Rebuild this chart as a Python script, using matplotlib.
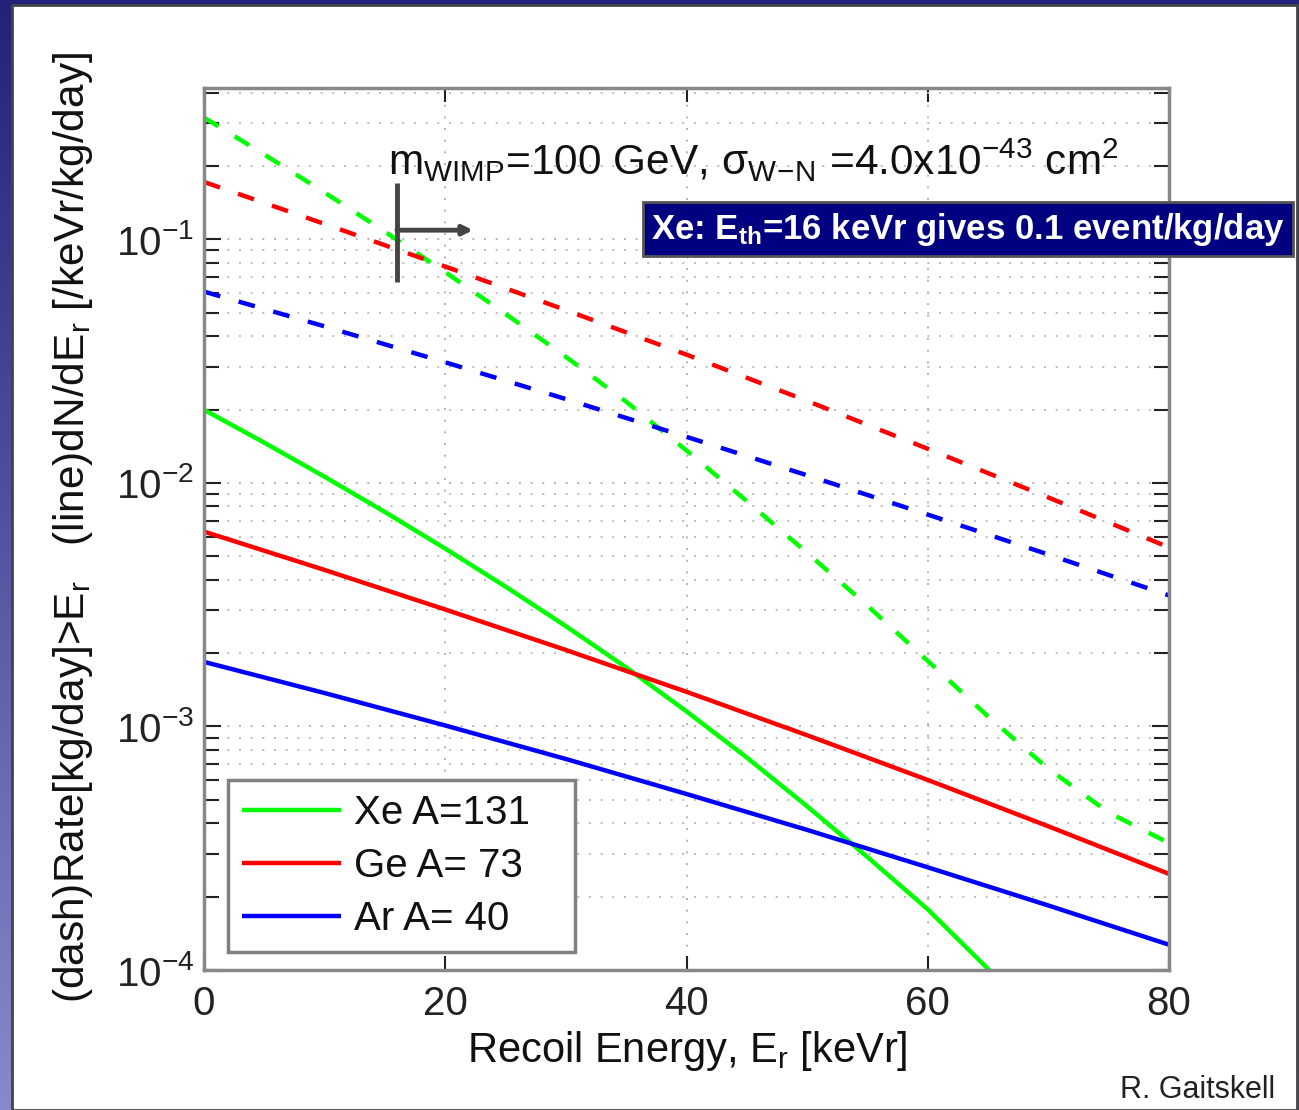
import numpy as np
import matplotlib
matplotlib.use('Agg')
import matplotlib.pyplot as plt
from matplotlib import font_manager
from matplotlib.colors import LinearSegmentedColormap
from matplotlib.patches import Rectangle
from matplotlib.ticker import LogLocator, NullFormatter

# recoil energies [keVr]
energy_fine = [0, 5, 10, 15, 20, 25, 30, 35, 40, 45, 50, 55, 60, 65, 70, 75, 80]
energy_coarse = [0, 10, 20, 30, 40, 50, 60, 70, 80]

# differential rate dN/dEr [/keVr/kg/day]
diff_xe = [0.01995, 0.01462, 0.01059, 0.00759, 0.00537, 0.00375, 0.00258, 0.001746,
           0.001153, 0.000745, 0.000470, 0.000291, 0.0001774, 0.0001010, 0.0000570]
diff_ge = [0.00631, 0.00439, 0.00302, 0.00206, 0.001387, 0.000920, 0.000603, 0.000389, 0.000248]
diff_ar = [0.001841, 0.001371, 0.001009, 0.000735, 0.000528, 0.000376, 0.000264, 0.000184, 0.000127]

# integrated rate above Er [/kg/day]
int_xe = [0.3162, 0.2228, 0.1556, 0.1074, 0.0733, 0.0494, 0.0329, 0.02153, 0.01358,
          0.00841, 0.00516, 0.00313, 0.001858, 0.001099, 0.000670, 0.000443, 0.000332]
int_ge = [0.172, 0.1156, 0.0773, 0.0512, 0.0336, 0.0217, 0.0138, 0.00871, 0.00543]
int_ar = [0.0610, 0.0439, 0.03126, 0.02208, 0.01545, 0.01074, 0.00741, 0.00508, 0.00345]

labels = ['Xe A=131', 'Ge A= 73', 'Ar A= 40']
colors = ['#00ff00', '#ff0000', '#0000ff']

# Xe threshold marker
e_threshold = 16.0
marker_span = (0.0671, 0.170)
arrow_rate = 0.109
arrow_end = 22.3

plt.rcParams['font.family'] = ['Liberation Sans', 'DejaVu Sans']
plt.rcParams['mathtext.default'] = 'regular'

installed = {f.name for f in font_manager.fontManager.ttflist}
if 'Liberation Sans Narrow' in installed:
    box_family, box_size = 'Liberation Sans Narrow', 30
else:
    box_family, box_size = 'Liberation Sans', 25

W, H = 1299, 1110
fig = plt.figure(figsize=(W / 100, H / 100), dpi=100)

# slide background and white panel
bg = fig.add_axes([0, 0, 1, 1], zorder=-5)
shade = np.linspace(0, 1, 256).reshape(-1, 1)
slide_cmap = LinearSegmentedColormap.from_list('slide', ['#22227a', '#8a88cc'])
bg.imshow(shade, aspect='auto', cmap=slide_cmap, extent=[0, 1, 0, 1], origin='upper')
bg.add_patch(Rectangle((12 / W, 0), (1297 - 12) / W, (H - 5) / H, transform=bg.transAxes,
                       facecolor='white', edgecolor='#444444', lw=2))
bg.set_xlim(0, 1)
bg.set_ylim(0, 1)
bg.axis('off')

ax = fig.add_axes([204 / W, 140 / H, 965 / W, 882 / H])

lw = 3.2
dashes = (0, (3.8, 4.3))
energies = [energy_fine, energy_coarse, energy_coarse]
for e, diff, lab, c in zip(energies, [diff_xe, diff_ge, diff_ar], labels, colors):
    ax.plot(e[:len(diff)], diff, color=c, lw=lw, label=lab, solid_capstyle='butt')
for e, integ, c in zip(energies, [int_xe, int_ge, int_ar], colors):
    ax.plot(e, integ, color=c, lw=lw, linestyle=dashes)

ax.set_yscale('log')
ax.set_xlim(0, 80)
ax.set_ylim(1e-4, 0.418)
ax.set_xticks([0, 20, 40, 60, 80])
ax.yaxis.set_major_locator(LogLocator(base=10, numticks=10))
ax.yaxis.set_minor_locator(LogLocator(base=10, subs=np.arange(2, 10), numticks=20))
ax.yaxis.set_minor_formatter(NullFormatter())

ax.grid(True, which='major', axis='both', linestyle=(0, (1, 5)), color='#b4b4b4', lw=1.4)
ax.grid(True, which='minor', axis='y', linestyle=(0, (1, 5)), color='#bcbcbc', lw=1.4)

ax.tick_params(axis='both', which='both', direction='in', top=True, right=True,
               colors='#222222', labelsize=29)
ax.tick_params(axis='x', which='major', length=10, width=1.5, pad=11)
ax.tick_params(axis='y', which='major', length=12, width=1.5, pad=7)
ax.tick_params(axis='y', which='minor', length=11, width=1.5)
for sp in ax.spines.values():
    sp.set_color('#888888')
    sp.set_linewidth(2.5)

ax.set_xlabel(r'Recoil Energy, E$_r$ [keVr]', fontsize=30, color='#111111')
ax.xaxis.set_label_coords(0.5005, -0.067)
ax.set_ylabel(r'(dash)Rate[kg/day]>E$_r$   (line)dN/dE$_r$ [/keVr/kg/day]',
              fontsize=30.5, color='#111111')
ax.yaxis.set_label_coords(-0.113, 0.502)

# threshold marker with arrow
ax.plot([e_threshold, e_threshold], marker_span, color='#444444', lw=3.5,
        solid_capstyle='butt', zorder=5)
ax.annotate('', xy=(arrow_end, arrow_rate), xytext=(e_threshold, arrow_rate),
            arrowprops=dict(arrowstyle='-|>', color='#444444', lw=3.5,
                            mutation_scale=14, shrinkA=0, shrinkB=0), zorder=5)

ax.text(0.1907, 0.9014,
        r'm$_{WIMP}$=100 GeV, $\sigma_{W\!-\!N}$ =4.0x10$^{-43}$ cm$^2$',
        transform=ax.transAxes, ha='left', va='baseline', fontsize=30.5, color='#111111')

leg = ax.legend(loc='lower left', bbox_to_anchor=(0.025, 0.02, 0.359, 0.2),
                mode='expand', borderaxespad=0,
                fontsize=29, handlelength=2.45, handletextpad=0.32, labelspacing=0.38,
                borderpad=0.35, fancybox=False, framealpha=1, edgecolor='#808080')
leg.get_frame().set_linewidth(2.5)
for t in leg.get_texts():
    t.set_color('#111111')

fig.text(968 / W, 1 - 229 / H, r'Xe: E$_{th}$=16 keVr gives 0.1 event/kg/day',
         ha='center', va='center', color='white', fontsize=box_size,
         family=[box_family, 'Liberation Sans'], fontweight='bold',
         bbox=dict(boxstyle='square,pad=0.25', facecolor='#000080',
                   edgecolor='#555555', lw=2), zorder=10)

fig.text(1275 / W, 12 / H, 'R. Gaitskell', ha='right', va='baseline',
         fontsize=22, color='#222222')

fig.savefig('out.png', dpi=100)
